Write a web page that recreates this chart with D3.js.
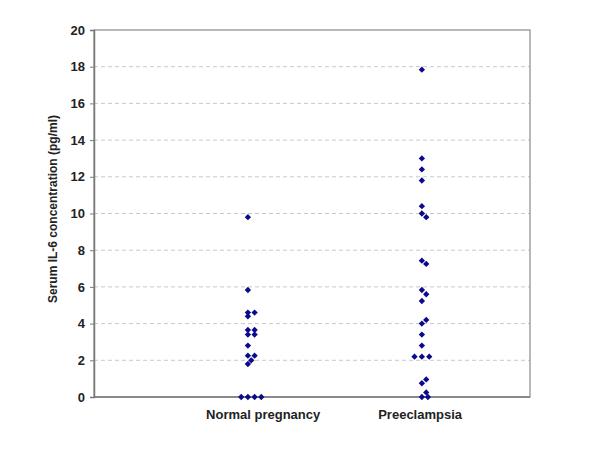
<!DOCTYPE html>
<html><head><meta charset="utf-8">
<script src="https://cdn.jsdelivr.net/npm/d3@7"></script>
<style>body{margin:0;background:#fff}svg{display:block}text{font-family:"Liberation Sans",Arial,sans-serif;font-weight:bold}</style>
</head><body><div id="c"></div>
<script>
const categories = ["Normal pregnancy", "Preeclampsia"];
const yTicks = [0, 2, 4, 6, 8, 10, 12, 14, 16, 18, 20];
// Normal pregnancy IL-6 values and dot slot (side-by-side arrangement)
const normalValues = [9.8, 5.83, 4.6, 4.6, 4.4, 3.65, 3.65, 3.4, 3.4, 2.8, 2.25, 2.25, 2.0, 1.8, 0, 0, 0, 0];
const normalSlots  = [0,   0,    0,   1,   0,   0,    1,    0,   1,   0,   0,    1,    0.5, 0,   -1, 0, 1, 2];
// Preeclampsia IL-6 values and dot slot
const preValues = [17.84, 13.0, 12.4, 11.8, 10.4, 10.0, 9.8, 7.43, 7.25, 5.83, 5.6, 5.23, 4.2, 4.0, 3.4, 2.8, 2.2, 2.2, 2.2, 0.96, 0.75, 0.25, 0.0, 0.0];
const preSlots  = [0,     0,    0,    0,    0,    0,    0.65, 0,   0.65, 0,   0.65, 0,  0.65, 0,  0,   0,   -1.1, 0, 1.1, 0.65, 0,   0.65, 0,  0.9];

const W = 600, H = 450;
const m = {left: 94, top: 30, right: 530, bottom: 397};
const svg = d3.select("#c").append("svg").attr("width", W).attr("height", H);

const x = d3.scaleLinear().domain([0, 1]).range([m.left, m.right]);
const catPos = [0.353, 0.752];
const labelPos = [0.388, 0.748];
const y = d3.scaleLinear().domain([0, 20]).range([m.bottom, m.top]);
const slotPx = 6.7;

// gridlines
svg.append("g").selectAll("line").data(yTicks.filter(t => t > 0 && t < 20)).join("line")
  .attr("x1", m.left).attr("x2", m.right)
  .attr("y1", d => y(d)).attr("y2", d => y(d))
  .attr("stroke", "#c8c8c8").attr("stroke-dasharray", "4,3").attr("stroke-width", 1);

// plot frame
svg.append("rect").attr("x", m.left).attr("y", m.top)
  .attr("width", m.right - m.left).attr("height", m.bottom - m.top)
  .attr("fill", "none").attr("stroke", "#8a8a8a").attr("stroke-width", 1.2);

// y axis
const yAxis = svg.append("g").attr("transform", `translate(${m.left},0)`)
  .call(d3.axisLeft(y).tickValues(yTicks).tickSize(4).tickPadding(5));
yAxis.select(".domain").attr("stroke", "#7a7a7a").attr("stroke-width", 1.5);
yAxis.selectAll(".tick line").attr("stroke", "#7a7a7a");
yAxis.selectAll(".tick text").attr("font-size", 13).attr("fill", "#222")
  .style("font-family", '"Liberation Sans",Arial,sans-serif').style("font-weight", "bold");

// x baseline
svg.append("line").attr("x1", m.left).attr("x2", m.right).attr("y1", m.bottom).attr("y2", m.bottom)
  .attr("stroke", "#7a7a7a").attr("stroke-width", 1.5);

// category labels
svg.append("g").selectAll("text").data(categories).join("text")
  .attr("x", (d, i) => x(labelPos[i])).attr("y", 419)
  .attr("text-anchor", "middle").attr("font-size", 13).attr("fill", "#222").text(d => d);

// y title
svg.append("text").attr("transform", "translate(57,209) rotate(-90)")
  .attr("text-anchor", "middle").attr("font-size", 12).attr("fill", "#222")
  .text("Serum IL-6 concentration (pg/ml)");

// points
const pts = [];
normalValues.forEach((v, i) => pts.push({c: 0, v, s: normalSlots[i]}));
preValues.forEach((v, i) => pts.push({c: 1, v, s: preSlots[i]}));
const sym = d3.symbol(d3.symbolSquare).size(20);
svg.append("g").selectAll("path").data(pts).join("path")
  .attr("d", sym)
  .attr("transform", d => `translate(${x(catPos[d.c]) + d.s * slotPx},${y(d.v)}) rotate(45)`)
  .attr("fill", "#0a0a8c");
</script></body></html>
